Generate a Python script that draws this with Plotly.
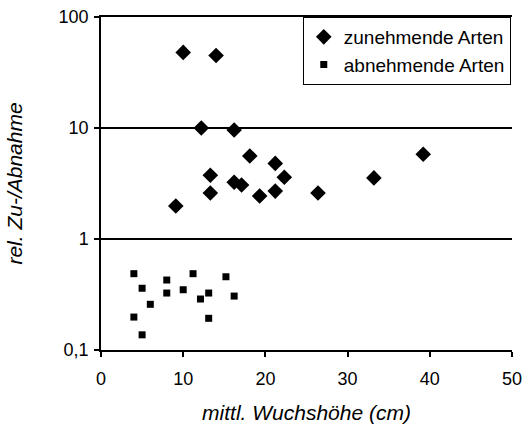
import plotly.graph_objects as go

# zunehmende Arten (increasing species)
inc_x = [10, 14, 12.2, 16.2, 18.1, 21.2, 22.3, 13.3, 16.2, 17.1, 13.3, 21.2, 19.3, 9.1, 26.4, 33.2, 39.2]
inc_y = [48, 45, 10, 9.6, 5.6, 4.8, 3.6, 3.75, 3.25, 3.07, 2.6, 2.7, 2.44, 1.98, 2.6, 3.55, 5.8]

# abnehmende Arten (decreasing species)
dec_x = [4, 5, 6, 4, 5, 8, 8, 10, 11.2, 12.1, 13.1, 13.1, 15.2, 16.2]
dec_y = [0.487, 0.36, 0.258, 0.198, 0.137, 0.427, 0.326, 0.349, 0.487, 0.288, 0.326, 0.193, 0.457, 0.306]

y_tickvals = [0.1, 1, 10, 100]
y_ticktext = ["0,1", "1", "10", "100"]
x_tickvals = [0, 10, 20, 30, 40, 50]

font_family = "Liberation Sans, Arial, sans-serif"

fig = go.Figure()
fig.add_trace(go.Scatter(
    x=inc_x, y=inc_y, mode="markers", name="zunehmende Arten",
    marker=dict(symbol="diamond", size=12, color="black"),
))
fig.add_trace(go.Scatter(
    x=dec_x, y=dec_y, mode="markers", name="abnehmende Arten",
    marker=dict(symbol="square", size=7, color="black"),
))

fig.update_layout(
    width=525, height=430,
    margin=dict(l=101, r=13, t=17, b=80, autoexpand=False),
    paper_bgcolor="white", plot_bgcolor="white",
    font=dict(family=font_family, size=18, color="black"),
    showlegend=True,
    legend=dict(
        x=0.997, y=1.0, xanchor="right", yanchor="top",
        bordercolor="black", borderwidth=1, bgcolor="white",
        font=dict(size=19), itemwidth=30, tracegroupgap=0,
    ),
    xaxis=dict(
        range=[0, 50], tickvals=x_tickvals, showgrid=False, zeroline=False,
        showline=True, mirror=True, linecolor="black", linewidth=1.5,
        ticks="outside", ticklen=5, tickcolor="black", tickwidth=1.5,
        ticklabelstandoff=7, automargin=False,
        title=dict(text="<i>mittl. Wuchshöhe (cm)</i>", font=dict(size=21), standoff=17),
    ),
    yaxis=dict(
        type="log", range=[-1, 2], tickvals=y_tickvals, ticktext=y_ticktext,
        showgrid=True, gridcolor="black", gridwidth=1.5, zeroline=False,
        showline=True, linecolor="black", linewidth=1.5,
        ticks="outside", ticklen=5, tickcolor="black", tickwidth=1.5,
        ticklabelstandoff=2, automargin=False,
        title=dict(text="<i>rel. Zu-/Abnahme</i>", font=dict(size=21), standoff=30),
    ),
)

fig.write_html(
    "out.html",
    config={"displayModeBar": False},
    post_script="document.body.style.margin='0';document.body.style.overflow='hidden';",
)
